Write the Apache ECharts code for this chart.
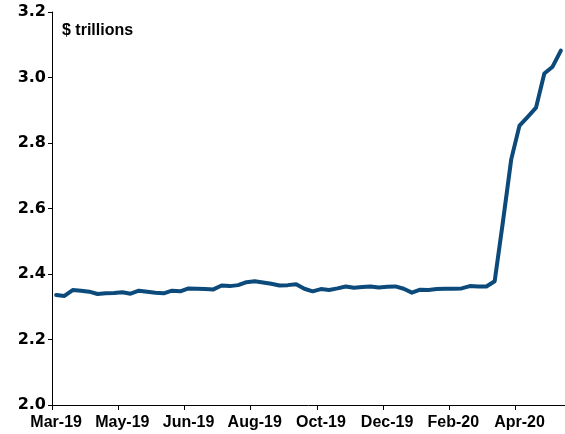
<!DOCTYPE html>
<html>
<head>
<meta charset="utf-8">
<script src="https://cdn.jsdelivr.net/npm/echarts@6/dist/echarts.min.js"></script>
<style>
html,body{margin:0;padding:0;background:#fff;}
#chart{width:565px;height:434px;}
</style>
</head>
<body>
<div id="chart"></div>
<script>
// Weekly observations (Wednesdays)
var weeks = [
 '2019-03-06','2019-03-13','2019-03-20','2019-03-27','2019-04-03','2019-04-10','2019-04-17','2019-04-24',
 '2019-05-01','2019-05-08','2019-05-15','2019-05-22','2019-05-29','2019-06-05','2019-06-12','2019-06-19',
 '2019-06-26','2019-07-03','2019-07-10','2019-07-17','2019-07-24','2019-07-31','2019-08-07','2019-08-14',
 '2019-08-21','2019-08-28','2019-09-04','2019-09-11','2019-09-18','2019-09-25','2019-10-02','2019-10-09',
 '2019-10-16','2019-10-23','2019-10-30','2019-11-06','2019-11-13','2019-11-20','2019-11-27','2019-12-04',
 '2019-12-11','2019-12-18','2019-12-25','2020-01-01','2020-01-08','2020-01-15','2020-01-22','2020-01-29',
 '2020-02-05','2020-02-12','2020-02-19','2020-02-26','2020-03-04','2020-03-11','2020-03-18','2020-03-25',
 '2020-04-01','2020-04-08','2020-04-15','2020-04-22','2020-04-29','2020-05-06'
];
// $ trillions
var values = [
 2.336,2.333,2.351,2.349,2.346,2.339,2.341,2.342,
 2.344,2.340,2.349,2.346,2.343,2.341,2.349,2.347,
 2.356,2.355,2.354,2.353,2.365,2.363,2.366,2.375,
 2.378,2.374,2.370,2.365,2.366,2.369,2.355,2.347,
 2.354,2.351,2.356,2.362,2.358,2.360,2.362,2.359,
 2.361,2.362,2.355,2.343,2.352,2.351,2.354,2.355,
 2.355,2.356,2.363,2.362,2.362,2.378,2.560,2.750,
 2.853,2.880,2.908,3.012,3.033,3.082
];
var yTicks = [2.0, 2.2, 2.4, 2.6, 2.8, 3.0, 3.2];
var unitLabel = '$ trillions';
var monthNames = ['Jan','Feb','Mar','Apr','May','Jun','Jul','Aug','Sep','Oct','Nov','Dec'];

var chart = echarts.init(document.getElementById('chart'), null, {renderer:'canvas'});
var font = 'Liberation Sans, Arial, sans-serif';
chart.setOption({
  animation: false,
  backgroundColor: '#ffffff',
  grid: {left: 52, top: 12, width: 516.67, height: 393, containLabel: false},
  graphic: [{
    type: 'text', left: 62, top: 23,
    style: {text: unitLabel, font: 'bold 16px ' + font, fill: '#000'}
  }],
  xAxis: {
    type: 'category',
    data: weeks,
    boundaryGap: true,
    axisLine: {lineStyle: {color: '#000', width: 1}},
    axisTick: {show: true, interval: 7, length: 5, lineStyle: {color: '#000'}},
    axisLabel: {
      interval: 7, margin: 10, color: '#000',
      fontFamily: font, fontWeight: 'bold', fontSize: 16,
      formatter: function (v) {
        var p = v.split('-');
        return monthNames[parseInt(p[1], 10) - 1] + '-' + p[0].slice(2);
      }
    },
    splitLine: {show: false}
  },
  yAxis: {
    type: 'value',
    min: yTicks[0], max: yTicks[yTicks.length - 1], interval: 0.2,
    axisLine: {show: true, lineStyle: {color: '#000', width: 1}},
    axisTick: {show: true, length: 4, lineStyle: {color: '#000'}},
    axisLabel: {
      margin: 6, color: '#000', fontFamily: 'DejaVu Sans, sans-serif', fontWeight: 'bold', fontSize: 16,
      formatter: function (v) { return v.toFixed(1); }
    },
    splitLine: {show: false}
  },
  series: [{
    type: 'line',
    data: values,
    showSymbol: false,
    symbol: 'none',
    lineStyle: {color: '#0b4a7a', width: 4, join: 'round', cap: 'round'},
    itemStyle: {color: '#0b4a7a'}
  }]
});
</script>
</body>
</html>
